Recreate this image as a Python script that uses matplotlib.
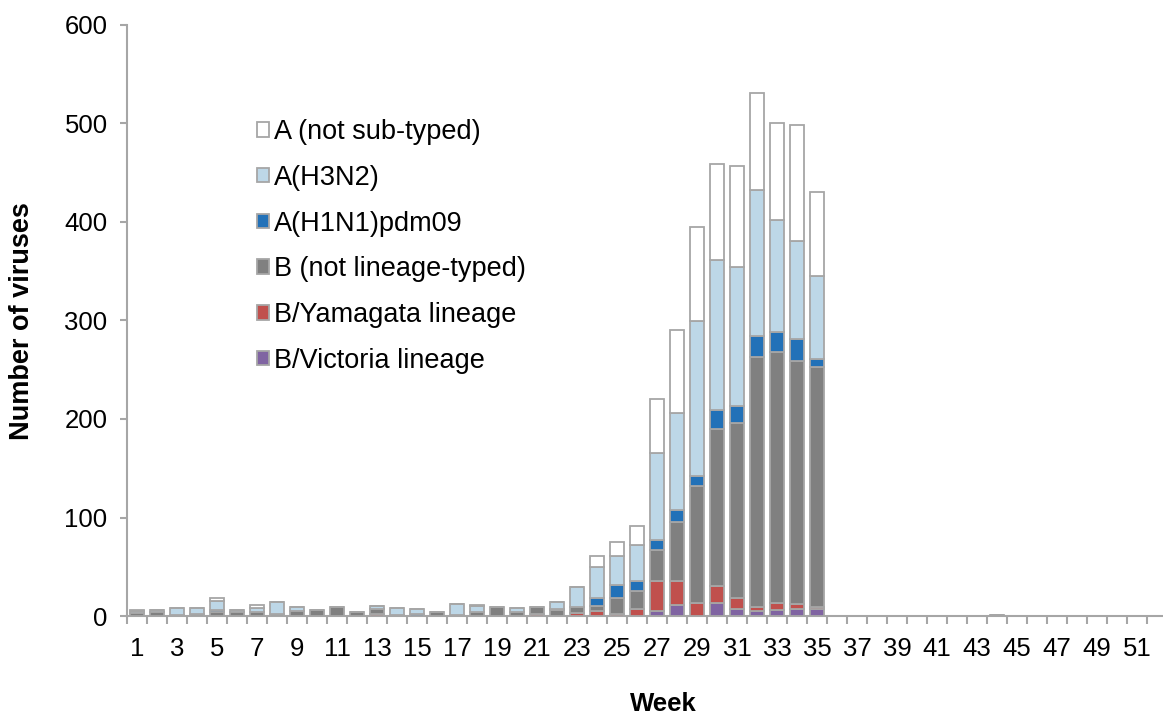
import matplotlib
matplotlib.use("Agg")
import matplotlib.pyplot as plt
from matplotlib.patches import Patch
import numpy as np

plt.rcParams['font.family'] = ['Liberation Sans', 'DejaVu Sans']

weeks = list(range(1, 53))

def series(d):
    return np.array([d.get(w, 0) for w in weeks], dtype=float)

victoria = series({27: 5, 28: 11, 30: 13, 31: 7, 32: 5, 33: 6, 34: 7, 35: 7})
yamagata = series({13: 2, 21: 2, 23: 3, 24: 5, 25: 2, 26: 7, 27: 31, 28: 25,
                   29: 13, 30: 17, 31: 11, 32: 4, 33: 7, 34: 5, 35: 2})
b_untyped = series({1: 3, 2: 4, 3: 1, 4: 2, 5: 4, 6: 4, 7: 4, 8: 2, 9: 5, 10: 6,
                    11: 9, 12: 4, 13: 5, 14: 1, 16: 4, 17: 1, 18: 4, 19: 9, 20: 4,
                    21: 7, 22: 6, 23: 6, 24: 5, 25: 16, 26: 18, 27: 31, 28: 59,
                    29: 119, 30: 160, 31: 178, 32: 254, 33: 255, 34: 247, 35: 244,
                    44: 1})
h1n1 = series({5: 2, 15: 2, 22: 1, 24: 8, 25: 13, 26: 11, 27: 10, 28: 13, 29: 10,
               30: 19, 31: 17, 32: 21, 33: 20, 34: 22, 35: 8})
h3n2 = series({1: 2, 2: 2, 3: 7, 4: 6, 5: 9, 6: 2, 7: 4, 8: 12, 9: 4, 13: 3, 14: 7,
               15: 5, 17: 11, 18: 6, 20: 4, 22: 7, 23: 20, 24: 32, 25: 30, 26: 36,
               27: 88, 28: 98, 29: 157, 30: 152, 31: 141, 32: 148, 33: 114,
               34: 100, 35: 84})
a_untyped = series({1: 1, 5: 3, 7: 3, 18: 1, 24: 11, 25: 14, 26: 19, 27: 55,
                    28: 84, 29: 96, 30: 98, 31: 103, 32: 99, 33: 99, 34: 117,
                    35: 85})

# bottom-to-top stacking order
stack = [
    ("B/Victoria lineage", victoria, "#8064a2"),
    ("B/Yamagata lineage", yamagata, "#c0504d"),
    ("B (not lineage-typed)", b_untyped, "#808080"),
    ("A(H1N1)pdm09", h1n1, "#2271b8"),
    ("A(H3N2)", h3n2, "#bdd7e7"),
    ("A (not sub-typed)", a_untyped, "#ffffff"),
]

W, H = 1163, 717
fig = plt.figure(figsize=(W / 100, H / 100), dpi=100)
ax = fig.add_axes([127 / W, 1 - 616 / H, 1040 / W, (616 - 25) / H])

edge = "#a6a6a6"
x = np.arange(1, 53)
bottom = np.zeros(len(weeks))
for name, vals, col in stack:
    ax.bar(x, vals, bottom=bottom, width=0.72, color=col, edgecolor=edge,
           linewidth=1.3, zorder=3)
    bottom += vals

ax.set_xlim(0.5, 52.5)
ax.set_ylim(0, 600)
ax.set_yticks(range(0, 601, 100))
ax.set_xticks(x[::2])
ax.set_xticklabels([str(w) for w in weeks[::2]])
ax.set_xticks(np.arange(0.5, 53, 1), minor=True)
ax.tick_params(axis='x', which='major', length=0, pad=15, labelsize=18.5)
ax.tick_params(axis='x', which='minor', length=6, width=1.5, color=edge)
ax.tick_params(axis='y', length=5, width=1.5, color=edge, labelsize=18.5, pad=9)

for s in ("top", "right"):
    ax.spines[s].set_visible(False)
for s in ("left", "bottom"):
    ax.spines[s].set_color(edge)
    ax.spines[s].set_linewidth(1.5)

fig.text(22 / W, 1 - 321 / H, "Number of viruses", fontsize=19.5,
         fontweight="bold", rotation=90, ha="center", va="center")
fig.text(663 / W, 1 - 704 / H, "Week", fontsize=18.5, fontweight="bold",
         ha="center", va="center")

handles = [Patch(facecolor=col, edgecolor=edge, linewidth=1.3, label=name)
           for name, vals, col in reversed(stack)]
ax.legend(handles=handles, loc="upper left", bbox_to_anchor=(257 / W, 1 - 119 / H),
          bbox_transform=fig.transFigure, frameon=False, fontsize=19.5,
          handlelength=0.45, handleheight=0.45, handletextpad=0.18,
          labelspacing=0.73, borderpad=0, borderaxespad=0)

fig.savefig("out.png", dpi=100)
